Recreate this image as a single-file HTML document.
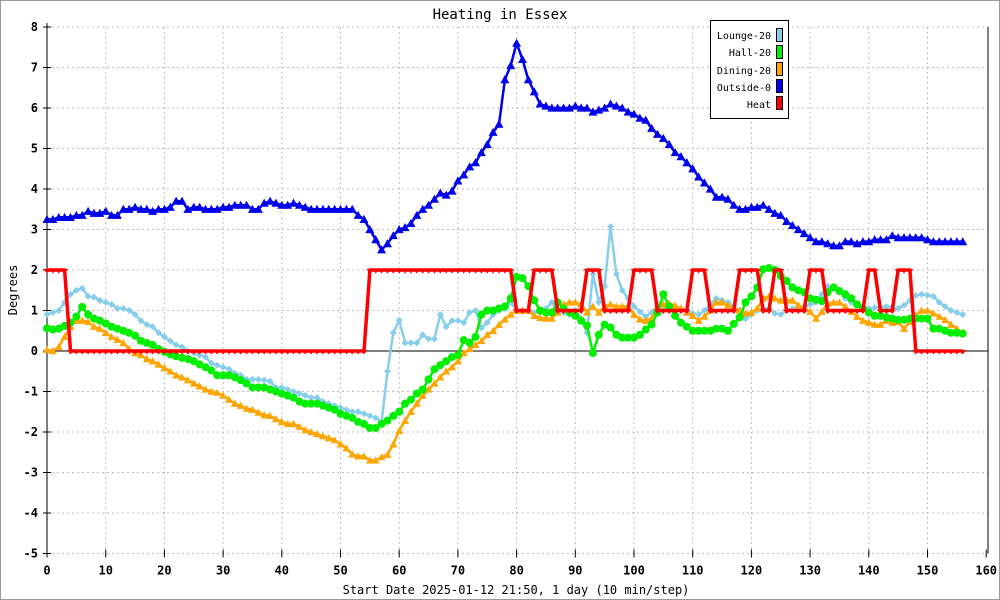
<!DOCTYPE html>
<html><head><meta charset="utf-8"><style>
html,body{margin:0;padding:0;background:#fff}
svg{display:block;font-family:"DejaVu Sans Mono","Liberation Mono",monospace}
</style></head><body>
<svg id="chart" width="1000" height="600" viewBox="0 0 1000 600" xmlns="http://www.w3.org/2000/svg">
<rect x="0.5" y="0.5" width="999" height="599" fill="#fff" stroke="#999"/>
<text x="500" y="19" text-anchor="middle" font-size="14" fill="#000">Heating in Essex</text>
<g id="grid"></g>
<g id="axes"></g>
<g id="series"></g>
<text x="17" y="290" font-size="12" text-anchor="middle" transform="rotate(-90 17 290)">Degrees</text>
<text x="516" y="594" font-size="12" text-anchor="middle">Start Date 2025-01-12 21:50, 1 day (10 min/step)</text>
<g>
<rect x="710.5" y="20.5" width="78" height="98" fill="#fff" stroke="#000"/>
<g font-size="10" text-anchor="end">
<text x="771" y="39">Lounge-20</text>
<text x="771" y="56">Hall-20</text>
<text x="771" y="74">Dining-20</text>
<text x="771" y="91">Outside-0</text>
<text x="771" y="108">Heat</text>
</g>
<rect x="776.5" y="28.5" width="6" height="13" fill="#87ceeb" stroke="#000"/>
<rect x="776.5" y="45.5" width="6" height="13" fill="#00ee00" stroke="#000"/>
<rect x="776.5" y="62.5" width="6" height="13" fill="#ffa500" stroke="#000"/>
<rect x="776.5" y="79.5" width="6" height="13" fill="#0000ee" stroke="#000"/>
<rect x="776.5" y="96.5" width="6" height="13" fill="#ff0000" stroke="#000"/>
</g>
</svg>
<script>
const xTicks=[0,10,20,30,40,50,60,70,80,90,100,110,120,130,140,150,160];
const yTicks=[-5,-4,-3,-2,-1,0,1,2,3,4,5,6,7,8];
const lounge=[0.9,0.95,1.0,1.2,1.4,1.5,1.55,1.35,1.33,1.25,
1.2,1.15,1.05,1.05,1.0,0.9,0.75,0.65,0.6,0.45,
0.35,0.25,0.15,0.1,0.0,-0.05,-0.1,-0.15,-0.3,-0.35,
-0.4,-0.45,-0.55,-0.6,-0.7,-0.7,-0.7,-0.72,-0.75,-0.9,
-0.9,-0.95,-1.0,-1.05,-1.1,-1.15,-1.15,-1.25,-1.3,-1.35,
-1.4,-1.45,-1.5,-1.5,-1.55,-1.6,-1.65,-1.75,-0.5,0.45,
0.76,0.2,0.2,0.2,0.4,0.3,0.3,0.9,0.6,0.75,
0.75,0.7,0.95,1.0,0.57,0.7,0.9,1.0,1.05,1.2,
1.0,1.0,1.0,0.95,0.95,1.05,1.2,1.0,0.95,0.9,
1.0,0.8,0.45,1.9,1.2,1.6,3.07,1.9,1.5,1.3,
1.1,0.97,0.85,0.95,1.13,1.1,1.05,1.05,1.05,1.0,
0.93,0.9,1.0,1.15,1.3,1.25,1.2,1.1,1.0,0.8,
0.9,1.0,1.05,1.05,0.93,0.9,1.0,1.05,1.1,1.1,
1.15,1.2,1.4,1.6,1.55,1.5,1.3,1.2,1.15,1.1,
1.05,1.07,1.08,1.1,1.08,1.05,1.13,1.25,1.37,1.4,
1.38,1.35,1.2,1.1,1.0,0.95,0.9];
const hall=[0.56,0.53,0.55,0.62,0.7,0.85,1.09,0.9,0.8,0.75,
0.68,0.6,0.55,0.5,0.45,0.38,0.25,0.2,0.15,0.05,
-0.02,-0.08,-0.13,-0.17,-0.2,-0.25,-0.33,-0.4,-0.48,-0.6,
-0.6,-0.6,-0.65,-0.72,-0.8,-0.9,-0.9,-0.9,-0.95,-1.0,
-1.05,-1.1,-1.15,-1.25,-1.3,-1.3,-1.3,-1.35,-1.4,-1.45,
-1.55,-1.6,-1.65,-1.75,-1.8,-1.9,-1.9,-1.8,-1.72,-1.6,
-1.5,-1.3,-1.2,-1.05,-0.95,-0.7,-0.45,-0.35,-0.25,-0.15,
-0.1,0.27,0.2,0.35,0.9,1.0,1.0,1.05,1.1,1.3,
1.83,1.8,1.6,1.25,1.0,0.95,0.95,1.2,1.05,0.95,
0.87,0.75,0.63,-0.05,0.4,0.65,0.58,0.4,0.33,0.33,
0.33,0.4,0.53,0.65,0.95,1.4,1.1,0.87,0.7,0.6,
0.5,0.5,0.5,0.5,0.55,0.55,0.5,0.67,0.83,1.2,
1.35,1.57,2.02,2.05,2.0,1.85,1.73,1.57,1.5,1.45,
1.3,1.27,1.23,1.45,1.57,1.48,1.4,1.3,1.15,1.05,
0.95,0.87,0.87,0.83,0.8,0.77,0.77,0.8,0.8,0.8,
0.8,0.55,0.55,0.5,0.45,0.45,0.43];
const dining=[0.03,0.0,0.1,0.35,0.6,0.75,0.75,0.72,0.6,0.55,
0.45,0.35,0.28,0.2,0.05,-0.05,-0.1,-0.2,-0.25,-0.33,
-0.42,-0.5,-0.6,-0.65,-0.72,-0.8,-0.87,-0.95,-1.0,-1.03,
-1.1,-1.2,-1.3,-1.35,-1.42,-1.45,-1.52,-1.58,-1.6,-1.68,
-1.75,-1.8,-1.8,-1.87,-1.95,-2.0,-2.05,-2.1,-2.15,-2.2,
-2.3,-2.4,-2.55,-2.6,-2.6,-2.7,-2.7,-2.62,-2.56,-2.3,
-1.97,-1.72,-1.5,-1.3,-1.1,-0.95,-0.8,-0.65,-0.5,-0.4,
-0.25,-0.05,0.05,0.15,0.25,0.4,0.5,0.65,0.78,0.9,
1.0,1.0,1.0,0.87,0.82,0.8,0.8,0.95,1.15,1.2,
1.2,1.15,0.95,1.1,0.95,1.1,1.15,1.1,1.1,1.1,
0.9,0.78,0.75,0.8,1.1,1.15,1.17,1.12,1.05,0.95,
0.87,0.75,0.85,1.0,1.2,1.2,1.13,1.05,1.0,0.93,
0.95,1.05,1.3,1.35,1.3,1.25,1.25,1.25,1.13,1.05,
0.97,0.8,0.97,1.17,1.2,1.2,1.1,0.97,0.85,0.75,
0.7,0.65,0.65,0.75,0.7,0.72,0.55,0.72,0.87,1.0,
1.0,0.93,0.85,0.77,0.65,0.55,0.45];
const outside=[3.25,3.25,3.3,3.3,3.3,3.35,3.35,3.45,3.4,3.4,
3.45,3.35,3.35,3.5,3.5,3.55,3.5,3.5,3.45,3.5,
3.5,3.55,3.7,3.7,3.5,3.55,3.55,3.5,3.5,3.5,
3.55,3.55,3.6,3.6,3.6,3.5,3.5,3.65,3.7,3.65,
3.6,3.6,3.65,3.6,3.55,3.5,3.5,3.5,3.5,3.5,
3.5,3.5,3.5,3.35,3.25,3.0,2.75,2.5,2.65,2.85,
3.0,3.05,3.15,3.35,3.5,3.6,3.75,3.9,3.85,3.95,
4.2,4.35,4.55,4.65,4.9,5.1,5.4,5.6,6.7,7.05,
7.6,7.2,6.7,6.4,6.1,6.05,6.0,6.0,6.0,6.0,
6.05,6.0,6.0,5.9,5.95,6.0,6.1,6.05,6.0,5.9,
5.85,5.75,5.7,5.5,5.35,5.25,5.1,4.9,4.8,4.65,
4.5,4.3,4.15,4.0,3.8,3.8,3.75,3.6,3.5,3.5,
3.55,3.55,3.6,3.5,3.4,3.35,3.2,3.1,3.0,2.9,
2.8,2.7,2.7,2.65,2.6,2.6,2.7,2.7,2.65,2.7,
2.7,2.75,2.75,2.75,2.85,2.8,2.8,2.8,2.8,2.8,
2.75,2.7,2.7,2.7,2.7,2.7,2.7];
const heat=[2,2,2,2,0,0,0,0,0,0,
0,0,0,0,0,0,0,0,0,0,
0,0,0,0,0,0,0,0,0,0,
0,0,0,0,0,0,0,0,0,0,
0,0,0,0,0,0,0,0,0,0,
0,0,0,0,0,2,2,2,2,2,
2,2,2,2,2,2,2,2,2,2,
2,2,2,2,2,2,2,2,2,2,
1,1,1,2,2,2,2,1,1,1,
1,1,2,2,2,1,1,1,1,1,
2,2,2,2,1,1,1,1,1,1,
2,2,2,1,1,1,1,1,2,2,
2,2,1,1,2,2,1,1,1,1,
2,2,2,1,1,1,1,1,1,1,
2,2,1,1,1,2,2,2,0,0,
0,0,0,0,0,0,0];

const NS='http://www.w3.org/2000/svg';
const X0=47,XS=5.87,Y0=351,YS=40.5;
function xs(v){return X0+v*XS;}
function ys(v){return Y0-v*YS;}
function mk(tag,attrs,parent){const e=document.createElementNS(NS,tag);for(const k in attrs)e.setAttribute(k,attrs[k]);parent.appendChild(e);return e;}
const grid=document.getElementById('grid'),axes=document.getElementById('axes'),ser=document.getElementById('series');
const xL=xs(0),xR=988,yT=ys(8),yB=ys(-5);
xTicks.forEach(t=>{
  const x=xs(t);
  if(t>0&&t<160){const g=mk('line',{x1:x,x2:x,y1:yT,y2:yB,stroke:'#bbb','stroke-dasharray':'2,3'},grid);
  
  }
  const tk=mk('line',{x1:x,x2:x,y1:yB-4,y2:yB+4,stroke:'#000'},axes);
  
  
  const lb=mk('text',{x:x,y:yB+21,'font-size':12,'font-weight':'bold','text-anchor':'middle'},axes);
  lb.textContent=t;
  
  
});
yTicks.forEach(t=>{
  const y=ys(t);
  if(t!==0){const g=mk('line',{x1:xL,x2:xR,y1:y,y2:y,stroke:'#bbb','stroke-dasharray':'2,3'},grid);
  
  }
  const tk=mk('line',{x1:xL-4,x2:xL+4,y1:y,y2:y,stroke:'#000'},axes);
  
  
  const lb=mk('text',{x:xL-9,y:y+4,'font-size':12,'font-weight':'bold','text-anchor':'end'},axes);
  lb.textContent=t;
  
  
});
const ax1=mk('line',{x1:xL,x2:xL,y1:yT-4,y2:yB+4,stroke:'#000'},axes);


const ax2=mk('line',{x1:xL,x2:xR,y1:ys(0),y2:ys(0),stroke:'#000'},axes);


const ax3=mk('line',{x1:xR,x2:xR,y1:yT,y2:yB,stroke:'#000'},axes);



function drawSeries(arr,color,name,marker,ms,sw){
  const g=mk('g',{},ser);
  
  
  const pts=arr.map((v,i)=>xs(i).toFixed(1)+','+ys(v).toFixed(1)).join(' ');
  const pl=mk('polyline',{points:pts,fill:'none',stroke:color,'stroke-width':sw,'stroke-linejoin':'round'},g);
  
  
  arr.forEach((v,i)=>{
    const x=xs(i),y=ys(v);let m;
    if(marker==='circle')m=mk('circle',{cx:x,cy:y,r:ms,fill:color},g);
    else if(marker==='tri')m=mk('polygon',{points:`${x},${y-ms} ${x+ms},${y+ms*0.8} ${x-ms},${y+ms*0.8}`,fill:color},g);
    else if(marker==='dtri')m=mk('polygon',{points:`${x-ms},${y-1} ${x+ms},${y-1} ${x},${y+ms}`,fill:color},g);
    else m=mk('polygon',{points:`${x},${y-ms} ${x+ms},${y} ${x},${y+ms} ${x-ms},${y}`,fill:color},g);
    
    
  });
}
drawSeries(lounge,'#87ceeb','lounge','diamond',3.5,2.5);
drawSeries(dining,'#ffa500','dining','tri',4,2.5);
drawSeries(hall,'#00ee00','hall','circle',4,2.5);
drawSeries(outside,'#0000ee','outside','tri',4.5,2.5);
drawSeries(heat,'#ff0000','heat','dtri',3.5,3.5);
</script>
</body></html>
